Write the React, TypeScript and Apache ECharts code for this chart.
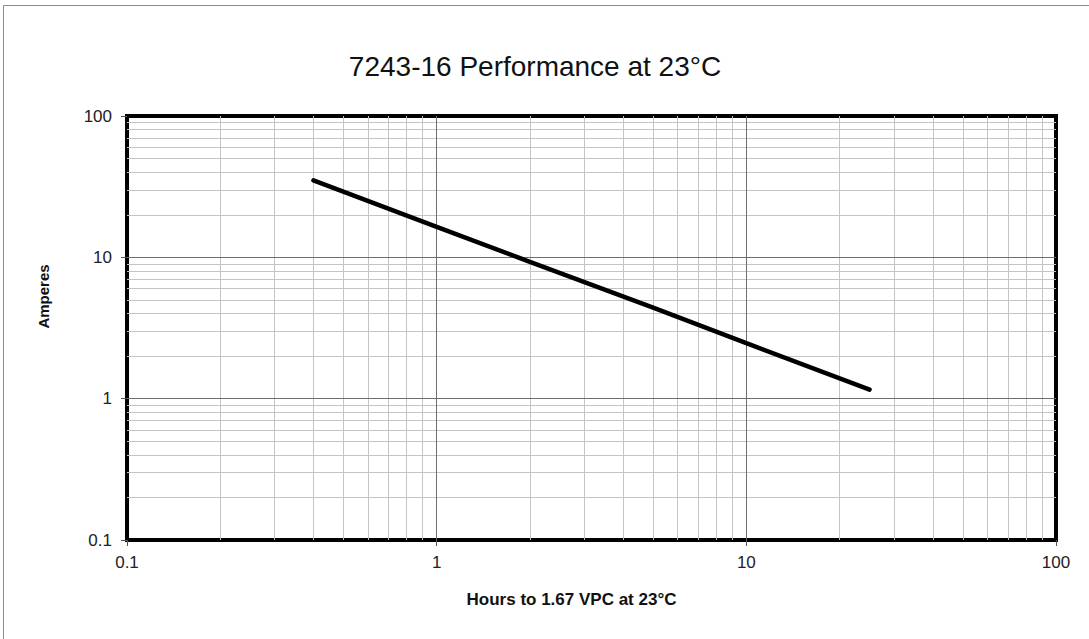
import React, { useEffect, useRef } from "react";
import * as echarts from "echarts";

const title = "7243-16 Performance at 23°C";
const xName = "Hours to 1.67 VPC at 23°C";
const yName = "Amperes";

// Hours to end voltage
const hours = [0.4, 1, 2, 5, 10, 25];
// Discharge current (A)
const amperes = [35, 16.4, 9.3, 4.4, 2.47, 1.16];

const decades = [0.1, 1, 10];
const multipliers = [2, 3, 4, 5, 6, 7, 8, 9];

export default function App() {
  const ref = useRef<HTMLDivElement>(null);
  useEffect(() => {
    document.body.style.margin = "0";
    if (!ref.current) return;
    const chart = echarts.init(ref.current, null, { renderer: "svg" });

    const minorVals: number[] = [];
    decades.forEach((d) => multipliers.forEach((m) => minorVals.push(+(d * m).toPrecision(3))));
    const majorVals = [1, 10];

    const minorStyle = { color: "#c4c4c4", width: 1, type: "solid" as const };
    const majorStyle = { color: "#6e6e6e", width: 1, type: "solid" as const };

    const gridData = [
      ...minorVals.map((v) => ({ xAxis: v, lineStyle: minorStyle })),
      ...minorVals.map((v) => ({ yAxis: v, lineStyle: minorStyle })),
      ...majorVals.map((v) => ({ xAxis: v, lineStyle: majorStyle })),
      ...majorVals.map((v) => ({ yAxis: v, lineStyle: majorStyle })),
    ];

    const font = "Liberation Sans, Arial, sans-serif";

    chart.setOption({
      animation: false,
      backgroundColor: "#ffffff",
      textStyle: { fontFamily: font },
      title: {
        text: title,
        left: 530,
        top: 47,
        textAlign: "center",
        textStyle: {
          fontSize: 28,
          fontWeight: "normal",
          color: "#111",
          fontFamily: font,
        },
      },
      graphic: [
        {
          type: "rect",
          shape: { x: 3.5, y: 5.5, width: 1200, height: 800 },
          style: { fill: "none", stroke: "#8a8a8a", lineWidth: 1 },
          silent: true,
          z: -10,
        },
      ],
      grid: {
        left: 127,
        right: 33,
        top: 116,
        bottom: 99,
        show: true,
        borderColor: "#000",
        borderWidth: 4,
        backgroundColor: "#fff",
      },
      xAxis: {
        type: "log",
        logBase: 10,
        min: 0.1,
        max: 100,
        name: xName,
        nameLocation: "middle",
        nameGap: 51,
        nameTextStyle: { fontSize: 17, fontWeight: "bold", color: "#111", padding: [0, 40, 0, 0] },
        axisLine: { show: true, lineStyle: { color: "#000", width: 4 } },
        axisTick: { show: true, inside: false, length: 6, lineStyle: { color: "#555", width: 1 } },
        axisLabel: {
          fontSize: 17,
          color: "#222",
          margin: 14,
          formatter: (v: number) => String(+v.toPrecision(3)),
        },
        splitLine: { show: false },
      },
      yAxis: {
        type: "log",
        logBase: 10,
        min: 0.1,
        max: 100,
        name: yName,
        nameLocation: "middle",
        nameGap: 76,
        nameRotate: 90,
        nameTextStyle: { fontSize: 15, fontWeight: "bold", color: "#111", padding: [0, 0, 0, 63] },
        axisLine: { show: true, lineStyle: { color: "#000", width: 4 } },
        axisTick: { show: true, inside: false, length: 6, lineStyle: { color: "#555", width: 1 } },
        axisLabel: {
          fontSize: 17,
          color: "#222",
          margin: 15,
          formatter: (v: number) => String(+v.toPrecision(3)),
        },
        splitLine: { show: false },
      },
      series: [
        {
          type: "line",
          data: hours.map((h, i) => [h, amperes[i]]),
          showSymbol: false,
          symbol: "none",
          lineStyle: { color: "#000", width: 4.5, cap: "round" },
          z: 5,
          markLine: {
            silent: true,
            symbol: ["none", "none"],
            label: { show: false },
            emphasis: { disabled: true },
            data: gridData,
            z: 1,
          },
        },
      ],
    });
    return () => chart.dispose();
  }, []);
  return <div ref={ref} style={{ width: 1089, height: 639 }} />;
}
